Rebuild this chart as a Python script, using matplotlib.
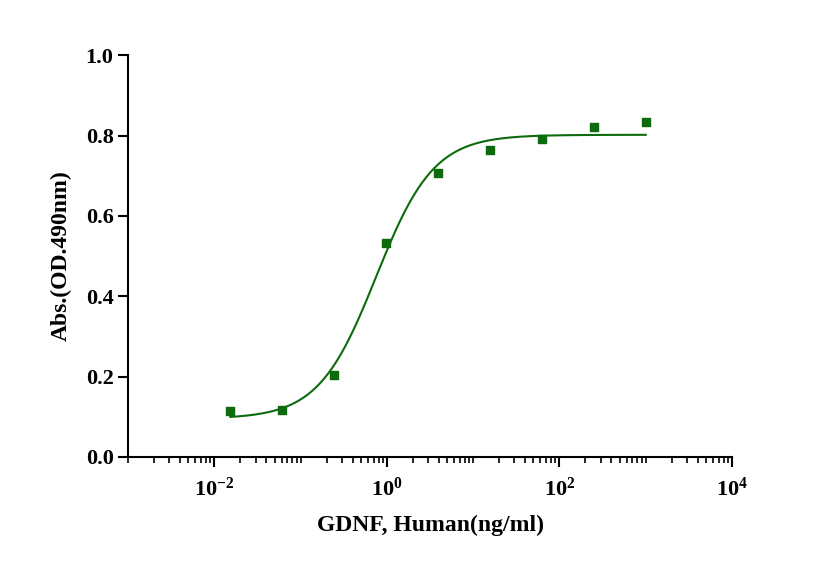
import numpy as np
import matplotlib
matplotlib.use("Agg")
import matplotlib.pyplot as plt
from matplotlib.ticker import LogLocator, FixedLocator, NullFormatter

conc = [0.0153, 0.061, 0.244, 0.977, 3.91, 15.6, 62.5, 250, 1000]
absorb = [0.114, 0.117, 0.204, 0.532, 0.706, 0.764, 0.791, 0.821, 0.833]
# 4PL fit parameters (bottom, top, EC50, hill)
fit_bottom, fit_top, fit_ec50, fit_hill = 0.095, 0.802, 0.75, 1.3

plt.rcParams["font.family"] = "Liberation Serif"
plt.rcParams["font.weight"] = "bold"
plt.rcParams["mathtext.fontset"] = "custom"
plt.rcParams["mathtext.rm"] = "Liberation Serif:bold"
plt.rcParams["mathtext.default"] = "rm"
green = "#0d6b0d"

fig = plt.figure(figsize=(8.16, 5.82), dpi=100)
ax = fig.add_axes([0.157, 0.215, 0.74, 0.69])
xs = np.logspace(np.log10(conc[0]), np.log10(conc[-1]), 300)
ys = fit_bottom + (fit_top - fit_bottom) / (1 + (fit_ec50 / xs) ** fit_hill)
ax.plot(xs, ys, color=green, lw=1.5)
ax.scatter(conc, absorb, marker="s", s=40, color=green, zorder=3)
ax.set_xscale("log")
ax.set_xlim(1e-3, 1e4)
ax.set_ylim(0, 1.0)
ax.xaxis.set_major_locator(FixedLocator([1e-2, 1e0, 1e2, 1e4]))
ax.xaxis.set_minor_locator(LogLocator(base=10, subs=np.arange(1, 10), numticks=20))
ax.xaxis.set_minor_formatter(NullFormatter())
ax.set_xticklabels(["10$^{-2}$", "10$^{0}$", "10$^{2}$", "10$^{4}$"])
ax.set_yticks([0, 0.2, 0.4, 0.6, 0.8, 1.0])
ax.set_yticklabels(["0.0", "0.2", "0.4", "0.6", "0.8", "1.0"])
for s in ["top", "right"]:
    ax.spines[s].set_visible(False)
for s in ["left", "bottom"]:
    ax.spines[s].set_linewidth(1.5)
ax.tick_params(axis="both", which="major", width=1.5, length=7, labelsize=16)
ax.tick_params(axis="x", which="minor", width=1.2, length=4)
ax.tick_params(axis="x", pad=8)
for lab in ax.get_xticklabels() + ax.get_yticklabels():
    lab.set_fontweight("bold")
ax.set_xlabel("GDNF, Human(ng/ml)", fontsize=17, fontweight="bold", labelpad=10)
ax.set_ylabel("Abs.(OD.490nm)", fontsize=17, fontweight="bold", labelpad=10)
fig.savefig("out.png", dpi=100)
